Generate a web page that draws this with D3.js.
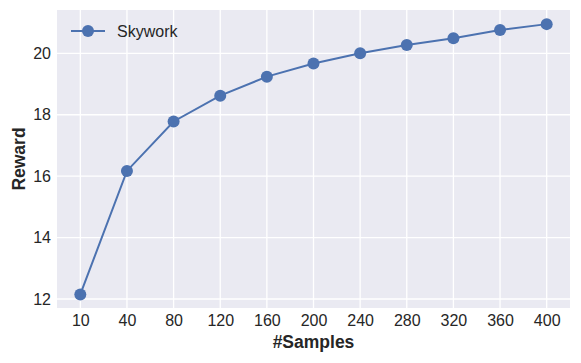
<!DOCTYPE html>
<html>
<head>
<meta charset="utf-8">
<script src="https://cdn.jsdelivr.net/npm/d3@7"></script>
<style>
  body { margin: 0; background: #fff; }
  svg { display: block; font-family: "Liberation Sans", Arial, sans-serif; }
</style>
</head>
<body>
<div id="chart"></div>
<script>
// data
var samples = ["10", "40", "80", "120", "160", "200", "240", "280", "320", "360", "400"];
var reward = [12.15, 16.17, 17.78, 18.62, 19.24, 19.67, 20.0, 20.27, 20.49, 20.76, 20.95];
var yTicks = [12, 14, 16, 18, 20];
var seriesName = "Skywork";

var width = 581, height = 363;
var margin = {top: 10, right: 11, bottom: 55, left: 57};
var color = "#4C72B0";

var svg = d3.select("#chart").append("svg")
    .attr("width", width)
    .attr("height", height);

// categorical x with half a step of padding each side
var xScale = d3.scalePoint()
    .domain(samples)
    .range([margin.left, width - margin.right])
    .padding(0.5);

var yScale = d3.scaleLinear()
    .domain([11.707, 21.41])
    .range([height - margin.bottom, margin.top]);

svg.append("rect")
    .attr("x", margin.left)
    .attr("y", margin.top)
    .attr("width", width - margin.left - margin.right)
    .attr("height", height - margin.top - margin.bottom)
    .attr("fill", "#EAEAF2");

// gridlines
svg.append("g").selectAll("line")
    .data(samples)
    .join("line")
    .attr("x1", d => xScale(d))
    .attr("x2", d => xScale(d))
    .attr("y1", margin.top)
    .attr("y2", height - margin.bottom)
    .attr("stroke", "#fff")
    .attr("stroke-width", 1.3);

svg.append("g").selectAll("line")
    .data(yTicks)
    .join("line")
    .attr("x1", margin.left)
    .attr("x2", width - margin.right)
    .attr("y1", d => yScale(d))
    .attr("y2", d => yScale(d))
    .attr("stroke", "#fff")
    .attr("stroke-width", 1.3);

// axes (only labels shown, seaborn darkgrid style)
var xAxis = d3.axisBottom(xScale).tickSize(0).tickPadding(7);
svg.append("g")
    .attr("id", "x-axis")
    .attr("transform", `translate(0, ${height - margin.bottom})`)
    .call(xAxis);

var yAxis = d3.axisLeft(yScale).tickValues(yTicks).tickSize(0).tickPadding(6);
svg.append("g")
    .attr("id", "y-axis")
    .attr("transform", `translate(${margin.left}, 0)`)
    .call(yAxis);

svg.selectAll("#x-axis .domain, #y-axis .domain").remove();
svg.selectAll("#x-axis text, #y-axis text")
    .attr("font-family", '"Liberation Sans", Arial, sans-serif')
    .attr("font-size", 16)
    .attr("fill", "#262626");

// axis titles
svg.append("text")
    .attr("x", (margin.left + width - margin.right) / 2)
    .attr("y", 347.5)
    .attr("text-anchor", "middle")
    .attr("font-size", 17.5)
    .attr("font-weight", "bold")
    .attr("fill", "#262626")
    .text("#Samples");

svg.append("text")
    .attr("transform", `translate(24.5, ${(margin.top + height - margin.bottom) / 2}) rotate(-90)`)
    .attr("text-anchor", "middle")
    .attr("font-size", 17.5)
    .attr("font-weight", "bold")
    .attr("fill", "#262626")
    .text("Reward");

// series line + markers
var line = d3.line()
    .x((d, i) => xScale(samples[i]))
    .y(d => yScale(d));

svg.append("path")
    .datum(reward)
    .attr("d", line)
    .attr("fill", "none")
    .attr("stroke", color)
    .attr("stroke-width", 2);

svg.append("g").selectAll("circle")
    .data(reward)
    .join("circle")
    .attr("cx", (d, i) => xScale(samples[i]))
    .attr("cy", d => yScale(d))
    .attr("r", 6)
    .attr("fill", color);

// legend
var legend = svg.append("g").attr("transform", "translate(71, 31)");
legend.append("line")
    .attr("x1", 0).attr("x2", 34)
    .attr("stroke", color)
    .attr("stroke-width", 2);
legend.append("circle")
    .attr("cx", 17).attr("r", 6)
    .attr("fill", color);
legend.append("text")
    .attr("x", 46)
    .attr("y", 6)
    .attr("font-size", 16)
    .attr("fill", "#262626")
    .text(seriesName);
</script>
</body>
</html>
